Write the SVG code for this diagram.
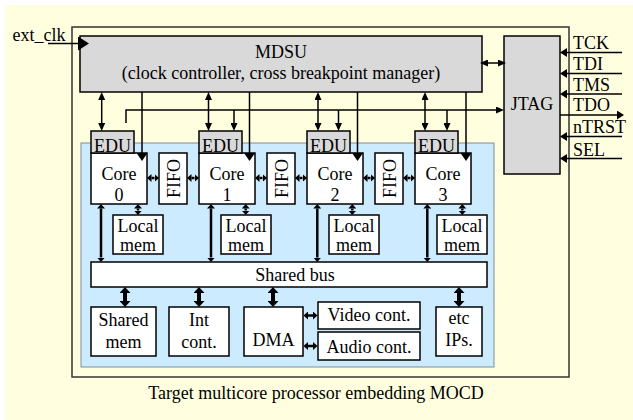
<svg xmlns="http://www.w3.org/2000/svg" width="633" height="420" viewBox="0 0 633 420">
  <style>
    text { font-family: "Liberation Serif", "Times New Roman", serif; font-size: 18px; fill: #000; }
    .c { text-anchor: middle; }
    .box { fill: #fff; stroke: #000; stroke-width: 1.5; }
    .gray { fill: #D9D9D9; stroke: #000; stroke-width: 1.5; }
    .w1 { fill: none; stroke: #000; stroke-width: 1.5; }
    .w2 { fill: none; stroke: #000; stroke-width: 2.5; }
    .w3 { fill: none; stroke: #000; stroke-width: 4; }
  </style>
  <defs>
    <!-- arrowheads: base sits on the line end, tip extends past it -->
    <marker id="s" viewBox="0 0 10 10" refX="0" refY="5" markerUnits="userSpaceOnUse" markerWidth="8" markerHeight="7" orient="auto-start-reverse" preserveAspectRatio="none">
      <path d="M0,0 L10,5 L0,10 z" fill="#000"/>
    </marker>
    <marker id="k" viewBox="0 0 10 10" refX="0" refY="5" markerUnits="userSpaceOnUse" markerWidth="8" markerHeight="11" orient="auto-start-reverse" preserveAspectRatio="none">
      <path d="M0,0 L10,5 L0,10 z" fill="#000"/>
    </marker>
    <marker id="p" viewBox="0 0 10 10" refX="0" refY="5" markerUnits="userSpaceOnUse" markerWidth="7" markerHeight="9" orient="auto-start-reverse" preserveAspectRatio="none">
      <path d="M0,0 L10,5 L0,10 z" fill="#000"/>
    </marker>
    <marker id="t" viewBox="0 0 10 10" refX="0" refY="5" markerUnits="userSpaceOnUse" markerWidth="4.5" markerHeight="8" orient="auto-start-reverse" preserveAspectRatio="none">
      <path d="M0,0 L10,5 L0,10 z" fill="#000"/>
    </marker>
    <marker id="h" viewBox="0 0 10 10" refX="0" refY="5" markerUnits="userSpaceOnUse" markerWidth="6" markerHeight="11" orient="auto-start-reverse" preserveAspectRatio="none">
      <path d="M0,0 L10,5 L0,10 z" fill="#000"/>
    </marker>
    <marker id="clk" viewBox="0 0 10 10" refX="0" refY="5" markerUnits="userSpaceOnUse" markerWidth="11" markerHeight="14" orient="auto" preserveAspectRatio="none">
      <path d="M0,0 L10,5 L0,10 z" fill="#000"/>
    </marker>
  </defs>

  <!-- page -->
  <rect x="5" y="5" width="628" height="415" fill="#FFFFE0"/>
  <rect id="chip" x="72" y="27" width="497" height="350" fill="none" stroke="#333" stroke-width="1.5"/>
  <rect id="cluster" x="81" y="143" width="413" height="224" fill="#CDEBFF" stroke="#7F8C99" stroke-width="1"/>

  <g id="mdsu">
    <rect class="gray" x="80" y="36" width="402" height="56"/>
    <text class="c" x="281" y="58">MDSU</text>
    <text class="c" x="281" y="79">(clock controller, cross breakpoint manager)</text>
  </g>

  <g id="jtag">
    <rect class="gray" x="504" y="36" width="56" height="138"/>
    <text class="c" x="532" y="110">JTAG</text>
  </g>

  <g id="ext_clk"><text x="12.5" y="41">ext_clk</text></g>

  <g id="pins">
    <text x="573" y="49">TCK</text>
    <text x="573" y="70">TDI</text>
    <text x="573" y="91">TMS</text>
    <text x="573" y="111">TDO</text>
    <text x="573" y="133">nTRST</text>
    <text x="573" y="156">SEL</text>
  </g>

  <!-- cores: EDU sits on the upper left of each core -->
  <g id="core0">
    <rect class="box" x="91" y="153" width="56" height="51"/>
    <rect class="gray" x="91" y="131" width="43" height="22"/>
    <text class="c" x="112.5" y="152">EDU</text>
    <text class="c" x="119" y="180">Core</text>
    <text class="c" x="119" y="201">0</text>
  </g>
  <g id="core1">
    <rect class="box" x="199" y="153" width="56" height="51"/>
    <rect class="gray" x="199" y="131" width="43" height="22"/>
    <text class="c" x="220.5" y="152">EDU</text>
    <text class="c" x="227" y="180">Core</text>
    <text class="c" x="227" y="201">1</text>
  </g>
  <g id="core2">
    <rect class="box" x="307" y="153" width="56" height="51"/>
    <rect class="gray" x="307" y="131" width="43" height="22"/>
    <text class="c" x="328.5" y="152">EDU</text>
    <text class="c" x="335" y="180">Core</text>
    <text class="c" x="335" y="201">2</text>
  </g>
  <g id="core3">
    <rect class="box" x="415" y="153" width="56" height="51"/>
    <rect class="gray" x="415" y="131" width="43" height="22"/>
    <text class="c" x="436.5" y="152">EDU</text>
    <text class="c" x="443" y="180">Core</text>
    <text class="c" x="443" y="201">3</text>
  </g>

  <g id="fifo0">
    <rect class="box" x="159" y="153" width="28" height="51"/>
    <text class="c" transform="translate(180,178.5) rotate(-90)">FIFO</text>
  </g>
  <g id="fifo1">
    <rect class="box" x="267" y="153" width="28" height="51"/>
    <text class="c" transform="translate(288,178.5) rotate(-90)">FIFO</text>
  </g>
  <g id="fifo2">
    <rect class="box" x="375" y="153" width="28" height="51"/>
    <text class="c" transform="translate(396,178.5) rotate(-90)">FIFO</text>
  </g>

  <g id="lmem0">
    <rect class="box" x="113" y="215" width="50" height="39"/>
    <text class="c" x="138" y="232">Local</text>
    <text class="c" x="138" y="251">mem</text>
  </g>
  <g id="lmem1">
    <rect class="box" x="221" y="215" width="50" height="39"/>
    <text class="c" x="246" y="232">Local</text>
    <text class="c" x="246" y="251">mem</text>
  </g>
  <g id="lmem2">
    <rect class="box" x="329" y="215" width="50" height="39"/>
    <text class="c" x="354" y="232">Local</text>
    <text class="c" x="354" y="251">mem</text>
  </g>
  <g id="lmem3">
    <rect class="box" x="437" y="215" width="50" height="39"/>
    <text class="c" x="462" y="232">Local</text>
    <text class="c" x="462" y="251">mem</text>
  </g>

  <g id="bus">
    <rect class="box" x="91" y="262" width="396" height="25"/>
    <text class="c" x="295" y="281">Shared bus</text>
  </g>

  <g id="smem">
    <rect class="box" x="91" y="307" width="65" height="49"/>
    <text class="c" x="123.5" y="326">Shared</text>
    <text class="c" x="123.5" y="348">mem</text>
  </g>
  <g id="intc">
    <rect class="box" x="169" y="307" width="60" height="49"/>
    <text class="c" x="199" y="326">Int</text>
    <text class="c" x="199" y="348">cont.</text>
  </g>
  <g id="dma">
    <rect class="box" x="244" y="307" width="59" height="49"/>
    <text class="c" x="273.5" y="346">DMA</text>
  </g>
  <g id="video">
    <rect class="box" x="318" y="302" width="102" height="27"/>
    <text class="c" x="369" y="321">Video cont.</text>
  </g>
  <g id="audio">
    <rect class="box" x="318" y="332" width="102" height="28"/>
    <text class="c" x="369" y="353">Audio cont.</text>
  </g>
  <g id="etc">
    <rect class="box" x="436" y="307" width="46" height="49"/>
    <text class="c" x="459" y="324">etc</text>
    <text class="c" x="459" y="346">IPs.</text>
  </g>

  <g id="connectors">
    <!-- clock input -->
    <line class="w1" x1="48" y1="43.5" x2="78" y2="43.5" marker-end="url(#clk)"/>
    <!-- MDSU <-> JTAG -->
    <line class="w1" x1="488" y1="63" x2="498" y2="63" marker-start="url(#s)" marker-end="url(#s)"/>
    <!-- JTAG pins -->
    <line class="w1" x1="622" y1="52.5" x2="567" y2="52.5" marker-end="url(#p)"/>
    <line class="w1" x1="622" y1="73.5" x2="567" y2="73.5" marker-end="url(#p)"/>
    <line class="w1" x1="622" y1="94" x2="567" y2="94" marker-end="url(#p)"/>
    <line class="w1" x1="560" y1="115" x2="617" y2="115" marker-end="url(#p)"/>
    <line class="w1" x1="622" y1="136.5" x2="567" y2="136.5" marker-end="url(#p)"/>
    <line class="w1" x1="622" y1="158.5" x2="567" y2="158.5" marker-end="url(#p)"/>

    <!-- MDSU <-> EDU -->
    <line class="w1" x1="101.7" y1="100" x2="101.7" y2="123" marker-start="url(#s)" marker-end="url(#s)"/>
    <line class="w1" x1="208.5" y1="100" x2="208.5" y2="123" marker-start="url(#s)" marker-end="url(#s)"/>
    <line class="w1" x1="318" y1="100" x2="318" y2="123" marker-start="url(#s)" marker-end="url(#s)"/>
    <line class="w1" x1="425" y1="100" x2="425" y2="123" marker-start="url(#s)" marker-end="url(#s)"/>
    <!-- EDU <-> JTAG trace -->
    <path class="w1" d="M126,123 V110 H496" marker-end="url(#s)"/>
    <line class="w1" x1="234" y1="110" x2="234" y2="123" marker-end="url(#s)"/>
    <line class="w1" x1="338.5" y1="110" x2="338.5" y2="123" marker-end="url(#s)"/>
    <line class="w1" x1="447" y1="110" x2="447" y2="123" marker-end="url(#s)"/>
    <!-- MDSU -> cores -->
    <line class="w1" x1="142" y1="92" x2="142" y2="153" marker-end="url(#k)"/>
    <line class="w1" x1="249.5" y1="92" x2="249.5" y2="153" marker-end="url(#k)"/>
    <line class="w1" x1="357.5" y1="92" x2="357.5" y2="153" marker-end="url(#k)"/>
    <line class="w1" x1="466" y1="92" x2="466" y2="153" marker-end="url(#k)"/>

    <!-- core <-> FIFO -->
    <line class="w2" x1="151.5" y1="178" x2="154.5" y2="178" marker-start="url(#t)" marker-end="url(#t)"/>
    <line class="w2" x1="191.5" y1="178" x2="194.5" y2="178" marker-start="url(#t)" marker-end="url(#t)"/>
    <line class="w2" x1="259.5" y1="178" x2="262.5" y2="178" marker-start="url(#t)" marker-end="url(#t)"/>
    <line class="w2" x1="299.5" y1="178" x2="302.5" y2="178" marker-start="url(#t)" marker-end="url(#t)"/>
    <line class="w2" x1="367.5" y1="178" x2="370.5" y2="178" marker-start="url(#t)" marker-end="url(#t)"/>
    <line class="w2" x1="407.5" y1="178" x2="410.5" y2="178" marker-start="url(#t)" marker-end="url(#t)"/>

    <!-- core <-> local mem -->
    <line class="w2" x1="138" y1="208.5" x2="138" y2="210.5" marker-start="url(#t)" marker-end="url(#t)"/>
    <line class="w2" x1="245.7" y1="208.5" x2="245.7" y2="210.5" marker-start="url(#t)" marker-end="url(#t)"/>
    <line class="w2" x1="352.3" y1="208.5" x2="352.3" y2="210.5" marker-start="url(#t)" marker-end="url(#t)"/>
    <line class="w2" x1="462.3" y1="208.5" x2="462.3" y2="210.5" marker-start="url(#t)" marker-end="url(#t)"/>

    <!-- core <-> shared bus -->
    <line class="w2" x1="101" y1="208.5" x2="101" y2="257.5" marker-start="url(#t)" marker-end="url(#t)"/>
    <line class="w2" x1="211" y1="208.5" x2="211" y2="257.5" marker-start="url(#t)" marker-end="url(#t)"/>
    <line class="w2" x1="317.3" y1="208.5" x2="317.3" y2="257.5" marker-start="url(#t)" marker-end="url(#t)"/>
    <line class="w2" x1="427.3" y1="208.5" x2="427.3" y2="257.5" marker-start="url(#t)" marker-end="url(#t)"/>

    <!-- shared bus <-> peripherals -->
    <line class="w3" x1="125" y1="293" x2="125" y2="301" marker-start="url(#h)" marker-end="url(#h)"/>
    <line class="w3" x1="199" y1="293" x2="199" y2="301" marker-start="url(#h)" marker-end="url(#h)"/>
    <line class="w3" x1="273" y1="293" x2="273" y2="301" marker-start="url(#h)" marker-end="url(#h)"/>
    <line class="w3" x1="459" y1="293" x2="459" y2="301" marker-start="url(#h)" marker-end="url(#h)"/>

    <!-- DMA <-> video / audio -->
    <line class="w2" x1="308" y1="315.5" x2="313" y2="315.5" marker-start="url(#t)" marker-end="url(#t)"/>
    <line class="w2" x1="308" y1="346" x2="313" y2="346" marker-start="url(#t)" marker-end="url(#t)"/>
  </g>

  <text id="caption" class="c" x="316" y="399">Target multicore processor embedding MOCD</text>
</svg>
